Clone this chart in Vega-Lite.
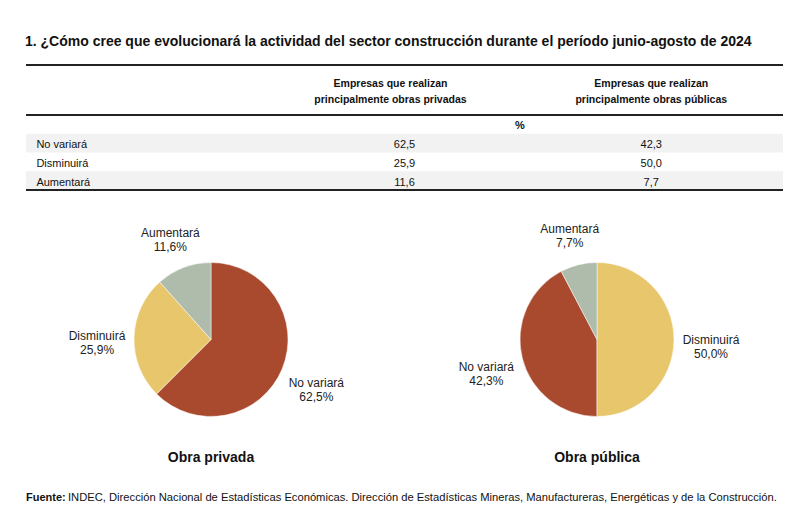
{
  "$schema": "https://vega.github.io/schema/vega-lite/v6.json",
  "background": "white",
  "padding": {"left": 25, "top": 35, "right": 5, "bottom": 5},
  "autosize": {"type": "pad"},
  "bounds": "flush",
  "spacing": 0,
  "title": {
    "text": "1. ¿Cómo cree que evolucionará la actividad del sector construcción durante el período junio-agosto de 2024",
    "anchor": "start",
    "font": "Liberation Sans, Arial, sans-serif",
    "fontSize": 14,
    "fontWeight": "bold",
    "color": "#111111",
    "baseline": "alphabetic",
    "offset": 4
  },
  "config": {
    "view": {"stroke": null},
    "font": "Liberation Sans, Arial, sans-serif",
    "text": {"color": "#111111"}
  },
  "datasets": {
    "resp": [
      {"obra": "Obra privada", "cat": "No variará", "value": 62.5},
      {"obra": "Obra privada", "cat": "Disminuirá", "value": 25.9},
      {"obra": "Obra privada", "cat": "Aumentará", "value": 11.6},
      {"obra": "Obra pública", "cat": "No variará", "value": 42.3},
      {"obra": "Obra pública", "cat": "Disminuirá", "value": 50.0},
      {"obra": "Obra pública", "cat": "Aumentará", "value": 7.7}
    ],
    "header": [
      {"obra": "Obra privada", "h": "Empresas que realizan\nprincipalmente obras privadas"},
      {"obra": "Obra pública", "h": "Empresas que realizan\nprincipalmente obras públicas"}
    ]
  },
  "vconcat": [
    {
      "width": 757,
      "height": 50,
      "data": {"name": "header"},
      "layer": [
        {
          "transform": [{"filter": "datum.obra == 'Obra privada'"}],
          "mark": {"type": "rule", "color": "#222222", "strokeWidth": 2},
          "encoding": {
            "y": {"datum": "h", "type": "nominal", "bandPosition": 0, "scale": {"type": "band", "domain": ["h"], "paddingInner": 0, "paddingOuter": 0}, "axis": null}
          }
        },
        {
          "transform": [{"filter": "datum.obra == 'Obra privada'"}],
          "mark": {"type": "text", "fontSize": 10.5, "fontWeight": "bold", "lineBreak": "\n", "lineHeight": 16, "baseline": "middle", "dx": -14, "dy": -6},
          "encoding": {
            "x": {"field": "obra", "type": "nominal", "bandPosition": 0.5, "scale": {"type": "band", "domain": ["label", "Obra privada", "Obra pública"], "paddingInner": 0, "paddingOuter": 0.034}, "axis": null},
            "y": {"datum": "h", "type": "nominal", "bandPosition": 0.5, "scale": {"type": "band", "domain": ["h"], "paddingInner": 0, "paddingOuter": 0}, "axis": null},
            "text": {"field": "h"}
          }
        },
        {
          "transform": [{"filter": "datum.obra == 'Obra pública'"}],
          "mark": {"type": "text", "fontSize": 10.5, "fontWeight": "bold", "lineBreak": "\n", "lineHeight": 16, "baseline": "middle", "dy": -6},
          "encoding": {
            "x": {"field": "obra", "type": "nominal", "bandPosition": 0.5, "scale": {"type": "band", "domain": ["label", "Obra privada", "Obra pública"], "paddingInner": 0, "paddingOuter": 0.034}, "axis": null},
            "y": {"datum": "h", "type": "nominal", "bandPosition": 0.5, "scale": {"type": "band", "domain": ["h"], "paddingInner": 0, "paddingOuter": 0}, "axis": null},
            "text": {"field": "h"}
          }
        }
      ]
    },
    {
      "width": 757,
      "height": 75,
      "data": {"name": "resp"},
      "transform": [
        {"calculate": "replace(format(datum.value, '.1f'), '.', ',')", "as": "vtxt"}
      ],
      "layer": [
        {
          "transform": [{"filter": "datum.obra == 'Obra privada' && (datum.cat == 'No variará' || datum.cat == 'Aumentará')"}],
          "mark": {"type": "rect", "color": "#f2f2f2"},
          "encoding": {
            "y": {"field": "cat", "type": "nominal", "scale": {"type": "band", "domain": ["%", "No variará", "Disminuirá", "Aumentará"], "paddingInner": 0, "paddingOuter": 0}, "axis": null}
          }
        },
        {
          "transform": [{"filter": "datum.obra == 'Obra privada' && datum.cat == 'No variará'"}],
          "mark": {"type": "rule", "color": "#222222", "strokeWidth": 2},
          "encoding": {
            "y": {"datum": "%", "type": "nominal", "bandPosition": 0, "scale": {"type": "band", "domain": ["%", "No variará", "Disminuirá", "Aumentará"], "paddingInner": 0, "paddingOuter": 0}, "axis": null}
          }
        },
        {
          "transform": [{"filter": "datum.obra == 'Obra privada' && datum.cat == 'No variará'"}],
          "mark": {"type": "rule", "color": "#222222", "strokeWidth": 2},
          "encoding": {
            "y": {"datum": "Aumentará", "type": "nominal", "bandPosition": 1, "scale": {"type": "band", "domain": ["%", "No variará", "Disminuirá", "Aumentará"], "paddingInner": 0, "paddingOuter": 0}, "axis": null}
          }
        },
        {
          "transform": [{"filter": "datum.obra == 'Obra privada' && datum.cat == 'No variará'"}],
          "mark": {"type": "text", "fontSize": 11, "fontWeight": "bold", "baseline": "middle", "dx": -8, "dy": 2},
          "encoding": {
            "x": {"datum": "Obra privada", "type": "nominal", "bandPosition": 1, "scale": {"type": "band", "domain": ["label", "Obra privada", "Obra pública"], "paddingInner": 0, "paddingOuter": 0.034}, "axis": null},
            "y": {"datum": "%", "type": "nominal", "bandPosition": 0.5, "scale": {"type": "band", "domain": ["%", "No variará", "Disminuirá", "Aumentará"], "paddingInner": 0, "paddingOuter": 0}, "axis": null},
            "text": {"value": "%"}
          }
        },
        {
          "transform": [{"filter": "datum.obra == 'Obra privada'"}],
          "mark": {"type": "text", "fontSize": 11, "align": "left", "baseline": "middle", "dx": 2, "dy": 2},
          "encoding": {
            "x": {"datum": "label", "type": "nominal", "bandPosition": 0, "scale": {"type": "band", "domain": ["label", "Obra privada", "Obra pública"], "paddingInner": 0, "paddingOuter": 0.034}, "axis": null},
            "y": {"field": "cat", "type": "nominal", "bandPosition": 0.5, "scale": {"type": "band", "domain": ["%", "No variará", "Disminuirá", "Aumentará"], "paddingInner": 0, "paddingOuter": 0}, "axis": null},
            "text": {"field": "cat"}
          }
        },
        {
          "mark": {"type": "text", "fontSize": 11, "baseline": "middle", "dy": 2},
          "encoding": {
            "x": {"field": "obra", "type": "nominal", "bandPosition": 0.5, "scale": {"type": "band", "domain": ["label", "Obra privada", "Obra pública"], "paddingInner": 0, "paddingOuter": 0.034}, "axis": null},
            "y": {"field": "cat", "type": "nominal", "bandPosition": 0.5, "scale": {"type": "band", "domain": ["%", "No variará", "Disminuirá", "Aumentará"], "paddingInner": 0, "paddingOuter": 0}, "axis": null},
            "text": {"field": "vtxt"}
          }
        }
      ]
    },
    {
      "width": 756,
      "height": 299,
      "data": {"name": "resp"},
      "transform": [
        {"stack": "value", "groupby": ["obra"], "sort": [{"field": "value", "order": "descending"}], "as": ["v0", "v1"]},
        {"calculate": "(datum.v0 + datum.v1) / 2", "as": "vmid"},
        {"calculate": "[datum.cat, replace(format(datum.value, '.1f'), '.', ',') + '%']", "as": "lbl"}
      ],
      "encoding": {
        "x": {"field": "obra", "type": "nominal", "bandPosition": 0.5, "scale": {"type": "band", "domain": ["Obra privada", "Obra pública"], "paddingInner": 0.0415, "paddingOuter": 0}, "axis": null}
      },
      "layer": [
        {
          "mark": {"type": "arc", "outerRadius": 77, "stroke": "white", "strokeWidth": 0.5},
          "encoding": {
            "theta": {"field": "v0", "type": "quantitative", "stack": null, "scale": {"domain": [0, 100]}},
            "theta2": {"field": "v1"},
            "color": {"field": "cat", "type": "nominal", "scale": {"domain": ["No variará", "Disminuirá", "Aumentará"], "range": ["#a94a2e", "#e8c66b", "#afbbab"]}, "legend": null}
          }
        },
        {
          "mark": {"type": "text", "radius": 114, "fontSize": 12, "lineHeight": 14, "baseline": "middle", "color": "#222222"},
          "encoding": {
            "theta": {"field": "vmid", "type": "quantitative", "stack": null, "scale": {"domain": [0, 100]}},
            "text": {"field": "lbl"}
          }
        },
        {
          "transform": [{"filter": "datum.cat == 'No variará'"}],
          "mark": {"type": "text", "fontSize": 14, "fontWeight": "bold", "baseline": "middle", "dy": 118, "color": "#111111"},
          "encoding": {
            "text": {"field": "obra"}
          }
        }
      ]
    },
    {
      "width": 757,
      "height": 14,
      "data": {"values": [{"a": "Fuente:", "b": "INDEC, Dirección Nacional de Estadísticas Económicas. Dirección de Estadísticas Mineras, Manufactureras, Energéticas y de la Construcción."}]},
      "encoding": {
        "x": {"datum": 0, "type": "quantitative", "scale": {"domain": [0, 1], "nice": false, "zero": false}, "axis": null}
      },
      "layer": [
        {
          "mark": {"type": "text", "align": "left", "baseline": "middle", "fontSize": 11, "fontWeight": "bold", "dy": 2},
          "encoding": {"text": {"field": "a"}}
        },
        {
          "mark": {"type": "text", "align": "left", "baseline": "middle", "fontSize": 11.2, "dx": 42, "dy": 2},
          "encoding": {"text": {"field": "b"}}
        }
      ]
    }
  ]
}
